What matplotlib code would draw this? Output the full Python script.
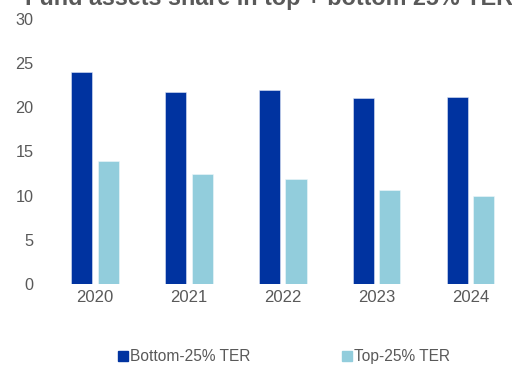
import numpy as np
import matplotlib.pyplot as plt
from matplotlib.lines import Line2D

plt.rcParams['font.family'] = ['Liberation Sans', 'DejaVu Sans']

years = ['2020', '2021', '2022', '2023', '2024']
bottom_ter = [24.0, 21.7, 21.9, 21.0, 21.2]
top_ter = [13.9, 12.4, 11.9, 10.6, 10.0]

dark_blue = '#0033a0'
light_blue = '#92cddc'
grey = '#595959'

fig = plt.figure(figsize=(5.12, 3.65), dpi=100)
ax = fig.add_axes([48 / 512, 81 / 365, 1 - 48 / 512, (284 - 18.8) / 365])

x = np.arange(len(years))
w = 0.224
off = 0.142
ax.bar(x - off, bottom_ter, w, color=dark_blue, edgecolor='#dfe6f5', linewidth=0.4)
ax.bar(x + off, top_ter, w, color=light_blue, edgecolor='#eef7fa', linewidth=0.4)

ax.set_xlim(-0.5, 4.443)
ax.set_ylim(0, 30)
ax.set_yticks(range(0, 31, 5))
ax.set_xticks(x)
ax.set_xticklabels(years)
ax.tick_params(axis='both', length=0, labelsize=12, colors=grey)
ax.tick_params(axis='y', labelsize=11.7, pad=10.5)
ax.tick_params(axis='x', pad=4)
for s in ax.spines.values():
    s.set_visible(False)

fig.text(25 / 512, 1 - 5.5 / 365, 'Fund assets share in top + bottom 25% TER',
         fontsize=16.8, fontweight='bold', color=grey, ha='left', va='baseline')

handles = [Line2D([], [], marker='s', linestyle='none', markersize=6.5, color=dark_blue),
           Line2D([], [], marker='s', linestyle='none', markersize=6.5, color=light_blue)]
fig.legend(handles, ['Bottom-25% TER', 'Top-25% TER'], loc='center',
           bbox_to_anchor=(0.555, 0.022), ncol=2, frameon=False, fontsize=11.2,
           labelcolor=grey, handlelength=0.6, handletextpad=0.15,
           columnspacing=5.9, borderpad=0, borderaxespad=0)

fig.savefig('out.png', dpi=100)
